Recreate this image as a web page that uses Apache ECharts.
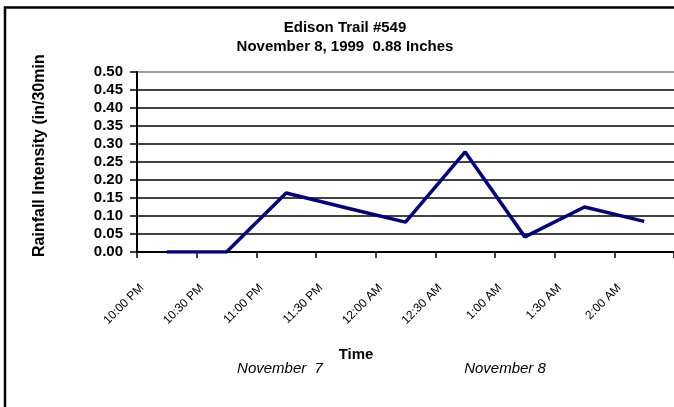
<!DOCTYPE html>
<html>
<head>
<meta charset="utf-8">
<script src="https://cdn.jsdelivr.net/npm/echarts@6/dist/echarts.min.js"></script>
<style>
  html, body { margin: 0; padding: 0; background: #fff; overflow: hidden; }
  #chart { width: 674px; height: 407px; }
</style>
</head>
<body>
<div id="chart"></div>
<script>
// half-hour slots, one reading per slot (plotted mid-slot)
const timeLabels = ["10:00 PM", "10:30 PM", "11:00 PM", "11:30 PM", "12:00 AM",
  "12:30 AM", "1:00 AM", "1:30 AM", "2:00 AM"];
const intensity = [0, 0, 0.164, 0.123, 0.083, 0.278, 0.042, 0.125, 0.085];
const yTicks = [0, 0.05, 0.1, 0.15, 0.2, 0.25, 0.3, 0.35, 0.4, 0.45, 0.5];

const chart = echarts.init(document.getElementById("chart"));

const font = "'Liberation Sans', Arial, sans-serif";
const gridColors = yTicks.map((v, i) => (i === yTicks.length - 1 ? "#808080" : "#000"));

const option = {
  animation: false,
  backgroundColor: "#fff",
  title: {
    text: "Edison Trail #549\nNovember 8, 1999  0.88 Inches",
    left: 345,
    top: 18,
    textAlign: "center",
    padding: 0,
    textStyle: { fontFamily: font, fontSize: 15, fontWeight: "bold", color: "#000", lineHeight: 19 }
  },
  // plot runs a little past the right edge of the cropped picture
  grid: { left: 137, top: 72, width: 540, height: 180 },
  xAxis: [
    {
      type: "value",
      min: 0,
      max: timeLabels.length,
      interval: 1,
      axisLine: { lineStyle: { color: "#000", width: 2 } },
      axisTick: { show: true, length: 6, lineStyle: { color: "#000", width: 1.5 } },
      axisLabel: { show: false },
      splitLine: { show: false }
    },
    {
      // label-only axis, nudged a few px right like the original
      type: "value",
      position: "bottom",
      min: -1 / 12,
      max: timeLabels.length - 1 / 12,
      axisLine: { show: false },
      axisTick: { show: false },
      splitLine: { show: false },
      axisLabel: {
        customValues: timeLabels.map((t, i) => i),
        rotate: 45,
        margin: 34,
        fontFamily: font,
        fontSize: 12,
        color: "#000",
        formatter: (v) => timeLabels[Math.round(v)] || ""
      }
    }
  ],
  yAxis: {
    type: "value",
    min: 0,
    max: 0.5,
    interval: 0.05,
    axisLine: { show: true, lineStyle: { color: "#000", width: 2 } },
    axisTick: { show: true, length: 7, lineStyle: { color: "#000", width: 1.5 } },
    axisLabel: {
      margin: 14,
      fontFamily: font,
      fontSize: 15,
      fontWeight: "bold",
      color: "#000",
      formatter: (v) => v.toFixed(2)
    },
    splitLine: { show: true, lineStyle: { color: gridColors, width: 1.5 } }
  },
  series: [
    {
      type: "line",
      xAxisIndex: 0,
      data: intensity.map((v, i) => [i + 0.5, v]),
      symbol: "none",
      lineStyle: { color: "#000080", width: 3.5 }
    }
  ],
  graphic: [
    {
      // outer chart frame: only left and top edges fall inside the crop
      type: "polyline",
      shape: { points: [[5, 407], [5, 7.5], [680, 7.5]] },
      style: { fill: null, stroke: "#000", lineWidth: 2.5 },
      silent: true
    },
    {
      type: "text",
      x: 40,
      y: 257,
      rotation: Math.PI / 2,
      style: {
        text: "Rainfall Intensity (in/30min",
        x: 0, y: 0,
        textAlign: "left",
        textVerticalAlign: "middle",
        fontFamily: font, fontSize: 16, fontWeight: "bold", fill: "#000"
      }
    },
    {
      type: "text",
      x: 356, y: 355,
      style: {
        text: "Time", textAlign: "center", textVerticalAlign: "middle",
        fontFamily: font, fontSize: 15, fontWeight: "bold", fill: "#000"
      }
    },
    {
      type: "text",
      x: 280, y: 369,
      style: {
        text: "November  7", textAlign: "center", textVerticalAlign: "middle",
        fontFamily: font, fontSize: 15, fontStyle: "italic", fill: "#000"
      }
    },
    {
      type: "text",
      x: 505, y: 369,
      style: {
        text: "November 8", textAlign: "center", textVerticalAlign: "middle",
        fontFamily: font, fontSize: 15, fontStyle: "italic", fill: "#000"
      }
    }
  ]
};

chart.setOption(option);
</script>
</body>
</html>
